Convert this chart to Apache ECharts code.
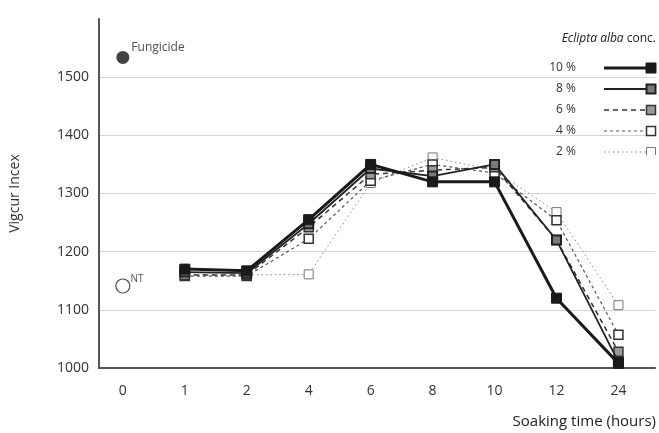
<!DOCTYPE html>
<html><head><meta charset="utf-8">
<script src="https://cdn.jsdelivr.net/npm/echarts@6/dist/echarts.min.js"></script>
<style>html,body{margin:0;padding:0;background:#fff}#c{width:659px;height:433px}</style>
</head><body><div id="c"></div>
<script>
// ---- data ----
const categories = ['0', '1', '2', '4', '6', '8', '10', '12', '24'];
const seriesNames = ['10 %', '8 %', '6 %', '4 %', '2 %'];
const conc10 = [null, 1170, 1167, 1255, 1350, 1320, 1320, 1120, 1008];
const conc8  = [null, 1165, 1163, 1248, 1343, 1330, 1350, 1220, 1010];
const conc6  = [null, 1160, 1160, 1242, 1333, 1340, 1345, 1220, 1028];
const conc4  = [null, 1158, 1158, 1222, 1322, 1350, 1335, 1254, 1057];
const conc2  = [null, 1160, 1160, 1161, 1318, 1362, 1340, 1268, 1108];
const fungicideValue = [1534];
const ntValue = [1141];
const yTicks = [1000, 1100, 1200, 1300, 1400, 1500];

// ---- styles ----
const FONT = '"Open Sans", "Noto Sans", sans-serif';
const styles = [
  { line: '#1a1a1a', width: 3,   type: 'solid', fill: '#1a1a1a', border: '#1a1a1a', bw: 1,   size: 10 },
  { line: '#222',    width: 1.8, type: 'solid', fill: '#7a7a7a', border: '#222',    bw: 2,   size: 9 },
  { line: '#333',    width: 1.5, type: [5, 4],  fill: '#9a9a9a', border: '#333',    bw: 1.5, size: 9 },
  { line: '#555',    width: 1.2, type: [3, 3],  fill: '#ffffff', border: '#333',    bw: 1.5, size: 9 },
  { line: '#8a8a8a', width: 1,   type: [1.5, 3],fill: '#ffffff', border: '#777',    bw: 1,   size: 9 }
];
const allData = [conc10, conc8, conc6, conc4, conc2];

const toPairs = arr => arr.map((v, i) => v == null ? null : [i, v]).filter(p => p);

const series = allData.map((arr, k) => ({
  name: seriesNames[k],
  type: 'line',
  data: toPairs(arr),
  symbol: 'rect',
  symbolSize: styles[k].size,
  z: 10 - k,
  lineStyle: { color: styles[k].line, width: styles[k].width, type: styles[k].type },
  itemStyle: { color: styles[k].fill, borderColor: styles[k].border, borderWidth: styles[k].bw },
  emphasis: { disabled: true },
  animation: false
}));

series.push({
  name: 'Fungicide', type: 'scatter', data: [[0, fungicideValue[0]]],
  symbol: 'circle', symbolSize: 13,
  itemStyle: { color: '#111' },
  label: { show: true, position: 'right', offset: [-3, -10], formatter: 'Fungicide',
           fontFamily: FONT, fontSize: 12, color: '#222' },
  animation: false
});
series.push({
  name: 'NT', type: 'scatter', data: [[0, ntValue[0]]],
  symbol: 'circle', symbolSize: 14,
  itemStyle: { color: '#fff', borderColor: '#222', borderWidth: 1.2 },
  label: { show: true, position: 'right', offset: [-5, -7], formatter: 'NT',
           fontFamily: FONT, fontSize: 10, color: '#222' },
  animation: false
});

// legend graphics
const legendGraphics = [];
legendGraphics.push({
  type: 'text', right: 3, top: 33,
  style: { text: '{i|Eclipta alba} conc.', fontFamily: FONT, fontSize: 12, fill: '#222',
           rich: { i: { fontStyle: 'italic', fontFamily: FONT, fontSize: 12, fill: '#222' } } }
});
const legY = [68, 89, 110, 131, 152];
seriesNames.forEach((n, k) => {
  const s = styles[k], y = legY[k];
  legendGraphics.push({
    type: 'text', x: 576, y: y, z: 100,
    style: { text: n, fontFamily: FONT, fontSize: 12, fill: '#333', align: 'right', verticalAlign: 'middle' }
  });
  legendGraphics.push({
    type: 'line', z: 100,
    shape: { x1: 604, y1: y, x2: 647, y2: y },
    style: { stroke: s.line, lineWidth: s.width, lineDash: Array.isArray(s.type) ? s.type : null }
  });
  legendGraphics.push({
    type: 'rect', z: 101,
    shape: { x: 651 - s.size / 2, y: y - s.size / 2, width: s.size, height: s.size },
    style: { fill: s.fill, stroke: s.border, lineWidth: s.bw }
  });
});
// clip the bottom of the last legend row like the reference
legendGraphics.push({ type: 'rect', z: 200, shape: { x: 515, y: 155, width: 144, height: 10 }, style: { fill: '#fff' } });
legendGraphics.push({
  type: 'text', right: 3, top: 414,
  style: { text: 'Soaking time (hours)', fontFamily: FONT, fontSize: 15, fill: '#222' }
});

const chart = echarts.init(document.getElementById('c'), null, { renderer: 'canvas' });
chart.setOption({
  animation: false,
  backgroundColor: '#fff',
  grid: { left: 95, right: 4, top: 19, bottom: 65, containLabel: false },
  xAxis: {
    type: 'value', min: -0.385, max: 8.59,
    axisLine: { show: true, onZero: false, lineStyle: { color: '#555', width: 2 } },
    axisTick: { show: false },
    splitLine: { show: false },
    axisLabel: { customValues: categories.map((c, i) => i), formatter: v => categories[Math.round(v)],
                 fontFamily: FONT, fontSize: 14, color: '#333', margin: 16 }
  },
  yAxis: {
    type: 'value', min: 1000, max: 1600, interval: 100,
    name: 'Vigcur Incex', nameLocation: 'middle', nameGap: 77, nameRotate: 90,
    nameTextStyle: { fontFamily: FONT, fontSize: 14, color: '#333' },
    axisLine: { show: true, onZero: false, lineStyle: { color: '#555', width: 2 } },
    axisTick: { show: false },
    splitLine: { show: true, showMinLine: false, showMaxLine: false, lineStyle: { color: '#d4d4d4', width: 1 } },
    axisLabel: { customValues: yTicks, formatter: v => String(v), fontFamily: FONT, fontSize: 14, color: '#333', margin: 10 }
  },
  graphic: legendGraphics,
  series: series
});
</script></body></html>
